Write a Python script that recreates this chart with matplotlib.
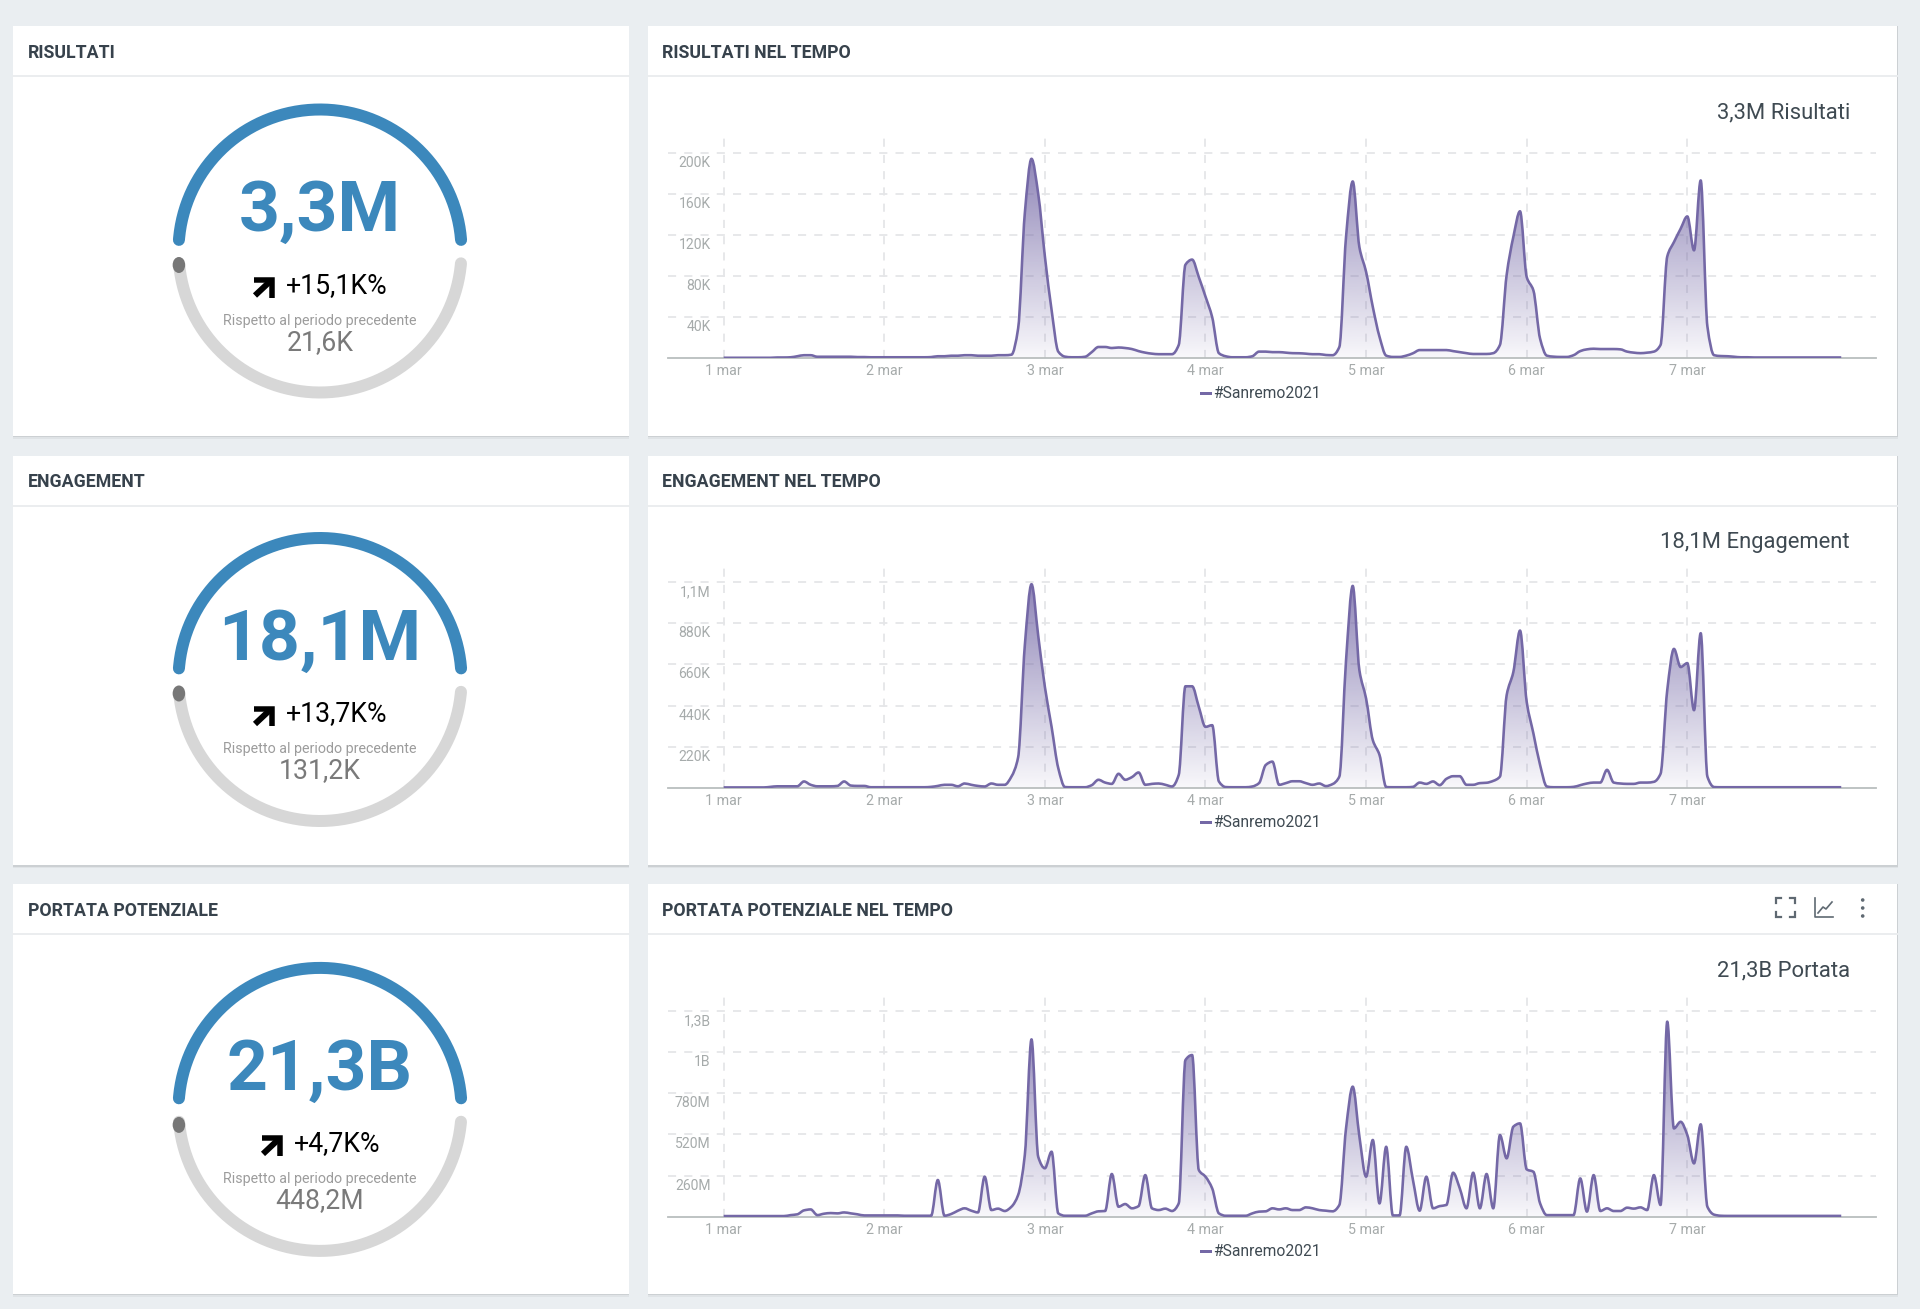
import numpy as np
import matplotlib
matplotlib.use('Agg')
import matplotlib.pyplot as plt
from matplotlib.patches import Rectangle, Ellipse, PathPatch
from matplotlib.path import Path
from matplotlib.transforms import ScaledTranslation

plt.rcParams['font.family'] = ['Roboto', 'DejaVu Sans']

W, H = 1920, 1309
PT = 0.72  # px -> pt at dpi 100

# hourly values, one line per day (1 mar .. 7 mar)
risultati = [
    .5, .5, .5, .5, .5, .5, .5, .5, .8, .8, 1, 2, 3, 3, 1.5, 1.5, 1.5, 1.5, 1.5, 1.5, 1.2, 1.2, 1, 1,
    1, 1, 1, 1, 1, 1, 1, 1.2, 2, 2, 2.5, 2.5, 3, 3, 2.5, 2.5, 2.5, 3, 3, 3.5, 29, 141, 194, 160,
    99, 47, 6.5, 1.6, 1, 1, 1.5, 6, 11, 11, 10, 10.5, 10, 9, 7, 5.5, 4.5, 4, 4, 4, 13, 91, 96, 79,
    60, 40, 5, 2, 1, 1, 1, 2, 6.5, 6.5, 6, 6, 5.5, 5, 4.9, 4.5, 4, 4, 3.2, 3, 11, 118, 172, 108,
    84, 50, 21, 2.6, 1.3, 1.3, 2.6, 4.9, 8, 8, 8, 8, 8, 7, 6, 5, 4.2, 4.2, 4.2, 5, 13, 81, 118, 143,
    79, 66, 19, 2.6, 1.6, 1.3, 1.3, 3, 7, 8.7, 9.3, 9, 9, 9, 8.7, 6.5, 5.5, 5, 5.5, 6.5, 13, 99, 113, 126,
    138, 105, 173, 31, 3, 2.2, 2, 1.5, 1, 1, .8, .8, .8, .8, .8, .8, .8, .8, .8, .8, .8, .8, .8, .8,
]
engagement = [
    2, 2, 2, 2, 2, 2, 2, 5, 8, 8, 8, 8, 34, 16, 8, 8, 8, 10, 34, 12, 10, 10, 3, 3,
    3, 3, 3, 3, 3, 3, 3, 5, 10, 16, 16, 8, 23, 16, 10, 7, 23, 16, 16, 60, 163, 761, 1089, 814,
    539, 326, 105, 4, 3, 3, 3, 14, 43, 28, 21, 75, 43, 57, 82, 16, 21, 23, 16, 7, 69, 543, 543, 433,
    326, 335, 34, 4, 3, 3, 3, 7, 25, 122, 140, 16, 25, 35, 35, 25, 16, 23, 9, 20, 60, 681, 1080, 628,
    477, 255, 176, 4, 3, 3, 3, 5, 28, 21, 34, 14, 48, 62, 62, 16, 16, 25, 27, 37, 60, 495, 619, 841,
    459, 291, 122, 7, 3, 3, 3, 5, 14, 23, 28, 28, 96, 28, 23, 21, 21, 28, 28, 32, 75, 522, 743, 646,
    667, 415, 827, 60, 4, 3, 3, 3, 3, 3, 3, 3, 3, 3, 3, 3, 3, 3, 3, 3, 3, 3, 3, 3,
]
portata = [
    4, 4, 4, 4, 4, 4, 4, 4, 4, 4, 10, 15, 40, 46, 10, 19, 23, 21, 27, 21, 15, 8, 8, 8,
    8, 8, 8, 6, 6, 6, 6, 6, 232, 6, 17, 38, 53, 38, 27, 253, 42, 51, 36, 63, 137, 390, 1121, 379,
    306, 411, 21, 6, 6, 6, 6, 21, 34, 36, 270, 63, 80, 53, 67, 263, 53, 42, 51, 36, 84, 990, 1022, 295,
    253, 179, 21, 6, 6, 6, 6, 21, 32, 34, 53, 46, 53, 42, 42, 59, 53, 42, 38, 34, 74, 558, 822, 506,
    253, 485, 84, 442, 8, 8, 442, 232, 38, 253, 53, 67, 74, 278, 179, 53, 278, 53, 270, 53, 516, 369, 569, 590,
    299, 284, 84, 10, 10, 10, 10, 10, 242, 32, 263, 36, 53, 36, 36, 57, 51, 59, 42, 263, 74, 1233, 558, 600,
    516, 337, 584, 63, 13, 6, 5, 5, 5, 5, 5, 5, 5, 5, 5, 5, 5, 5, 5, 5, 5, 5, 5, 5,
]

day_labels = ['1 mar', '2 mar', '3 mar', '4 mar', '5 mar', '6 mar', '7 mar']
left_titles = ['RISULTATI', 'ENGAGEMENT', 'PORTATA POTENZIALE']
right_titles = ['RISULTATI NEL TEMPO', 'ENGAGEMENT NEL TEMPO', 'PORTATA POTENZIALE NEL TEMPO']
big_values = ['3,3M', '18,1M', '21,3B']
changes = ['+15,1K%', '+13,7K%', '+4,7K%']
previous = ['21,6K', '131,2K', '448,2M']
totals = ['3,3M Risultati', '18,1M Engagement', '21,3B Portata']
series = [risultati, engagement, portata]
y_steps = [40, 220, 260]
y_labels = [['40K', '80K', '120K', '160K', '200K'],
            ['220K', '440K', '660K', '880K', '1,1M'],
            ['260M', '520M', '780M', '1B', '1,3B']]
legend_name = '#Sanremo2021'

row_offset = [0, 429.5, 858.4]
gauge_offset = [0, 428.5, 858.4]
BG = '#eaeef1'
BLUE = '#3c88bc'
LINE = '#7468a6'
DARK = '#37424c'
TICK = '#a6abab'
GRID = '#e5e6e8'

fig = plt.figure(figsize=(W / 100, H / 100), dpi=100, facecolor=BG)
bg = fig.add_axes([0, 0, 1, 1])
bg.set_xlim(0, W)
bg.set_ylim(H, 0)
bg.axis('off')


def card(x0, x1, y0, y1, yh):
    # soft shadow under the card
    bg.add_patch(Rectangle((x0 - 0.5, y0), x1 - x0 + 1, y1 - y0 + 3, fc='#dfe3e6', ec='none', zorder=1))
    bg.add_patch(Rectangle((x0 - 0.5, y0), x1 - x0 + 1, y1 - y0 + 1.5, fc='#ccd0d3', ec='none', zorder=1))
    bg.add_patch(Rectangle((x0, y0), x1 - x0, y1 - y0, fc='white', ec='none', zorder=2))
    bg.plot([x0, x1], [yh, yh], color='#ebedef', lw=1.4, zorder=3)


def spline_path(x, y):
    # monotone cubic through the hourly values, so tops stay round and nothing overshoots
    d = np.diff(y)
    m = np.zeros(len(y))
    same = d[:-1] * d[1:] > 0
    m[1:-1][same] = 2 * d[:-1][same] * d[1:][same] / (d[:-1][same] + d[1:][same])
    verts = [(x[0], y[0])]
    codes = [Path.MOVETO]
    for k in range(len(x) - 1):
        verts += [(x[k] + 1 / 3, y[k] + m[k] / 3), (x[k + 1] - 1 / 3, y[k + 1] - m[k + 1] / 3), (x[k + 1], y[k + 1])]
        codes += [Path.CURVE4] * 3
    return verts, codes


for i in range(3):
    off = row_offset[i]
    goff = gauge_offset[i]
    card(13, 628.6, 26 + off, 435.5 + off, 76 + off)
    card(648, 1897, 26 + off, 435.5 + off, 76 + off)
    bg.text(27.5, 52.6 + off, left_titles[i], fontsize=17.8 * PT, fontweight='bold', color=DARK, va='center', zorder=4)
    bg.text(662, 52.6 + off, right_titles[i], fontsize=17.8 * PT, fontweight='bold', color=DARK, va='center', zorder=4)

    # gauge
    cx, cy, r = 320, 251 + goff, 141.5
    top = np.radians(np.linspace(4.5, 175.5, 200))
    bottom = np.radians(np.linspace(-175, -5, 200))
    bg.plot(cx + r * np.cos(top), cy - r * np.sin(top), color=BLUE, lw=12 * PT, solid_capstyle='round', zorder=4)
    bg.plot(cx + r * np.cos(bottom), cy - r * np.sin(bottom), color='#d7d7d7', lw=12 * PT, solid_capstyle='round', zorder=4)
    dot_y = 265 + goff + (1.5 if i == 2 else 0)
    bg.add_patch(Ellipse((178.9, dot_y), 12.5, 16, fc='#777777', ec='none', zorder=5))
    bg.text(cx, 211.5 + goff, big_values[i], fontsize=71.5 * PT, fontweight='bold', color=BLUE, ha='center', va='center', zorder=5)

    # arrow next to the change, shifted with the text length
    ax_shift = 8 if i == 2 else 0
    bg.plot([255 + ax_shift, 271 + ax_shift], [295.5 + goff, 280.5 + goff], color='black', lw=6 * PT, zorder=5, solid_capstyle='butt')
    bg.plot([253.5 + ax_shift, 272 + ax_shift, 272 + ax_shift], [280 + goff, 280 + goff, 297.5 + goff],
            color='black', lw=5.5 * PT, zorder=5, solid_joinstyle='miter', solid_capstyle='butt')
    bg.text(285.5 + ax_shift, 285.5 + goff, changes[i], fontsize=26.6 * PT, color='black', va='center', zorder=5)
    bg.text(320, 320.7 + goff, 'Rispetto al periodo precedente', fontsize=14.2 * PT, color='#9c9c9c', ha='center', va='center', zorder=5)
    bg.text(320, 342.5 + goff, previous[i], fontsize=26.6 * PT, color='#7a7a7a', ha='center', va='center', zorder=5)

    bg.text(1850, 113 + off, totals[i], fontsize=22 * PT, color='#3f4a52', ha='right', va='center', zorder=5)
    bg.plot([1201, 1210], [392.5 + off, 392.5 + off], color=LINE, lw=3 * PT, zorder=5)
    bg.text(1213, 393.3 + off, legend_name, fontsize=15.6 * PT, color='#3f4a52', va='center', zorder=5)

    # time chart, axes box in px
    base = 358.3 + off
    axtop = 134 + off
    left, right = 667.8, 1875.7
    ax = fig.add_axes([left / W, 1 - base / H, (right - left) / W, (base - axtop) / H], facecolor='none')
    values = np.array(series[i], dtype=float)
    hours = np.arange(len(values), dtype=float)
    step = y_steps[i]
    ymax = step * (base - axtop) / 41.13

    ax.grid(True, color=GRID, lw=1.3, linestyle=(0, (4.5, 4.5)), zorder=0)
    ax.set_axisbelow(True)
    ax.set_xticks(np.arange(7) * 24)
    ax.set_xticklabels(day_labels)
    ax.set_yticks(np.arange(1, 6) * step)
    ax.set_yticklabels(y_labels[i])
    ax.tick_params(axis='x', length=0, pad=6 * PT, labelsize=14.3 * PT, labelcolor=TICK)
    ax.tick_params(axis='y', length=0, pad=-42.8 * PT, labelsize=14 * PT, labelcolor=TICK)
    shift = ScaledTranslation(0, -8.5 * PT / 72, fig.dpi_scale_trans)
    for lab in ax.get_yticklabels():
        lab.set_transform(lab.get_transform() + shift)
    for s in ['top', 'left', 'right']:
        ax.spines[s].set_visible(False)
    ax.spines['bottom'].set_color('#b9bebe')
    ax.spines['bottom'].set_linewidth(1.3)

    # fill: fades from the top of the series down to the baseline
    grad = np.zeros((256, 1, 4))
    grad[..., 0] = 0x74 / 255
    grad[..., 1] = 0x68 / 255
    grad[..., 2] = 0xa6 / 255
    grad[..., 3] = np.linspace(0.8, 0.05, 256)[:, None]
    im = ax.imshow(grad, extent=[0, hours[-1], 0, values.max()], aspect='auto', origin='upper', zorder=1,
                   interpolation='bilinear')
    verts, codes = spline_path(hours, values)
    area = Path(verts + [(hours[-1], 0), (0, 0), (0, 0)], codes + [Path.LINETO, Path.LINETO, Path.CLOSEPOLY])
    im.set_clip_path(PathPatch(area, transform=ax.transData))
    ax.set_xlim(-8.35, 172.15)
    ax.set_ylim(0, ymax)
    ax.add_patch(PathPatch(Path(verts, codes), fc='none', ec=LINE, lw=2.6 * PT, joinstyle='round', zorder=3))

# header icons on the last chart
ICON = '#5f6972'
for xs, ys in [([1776, 1776, 1781], [903, 898, 898]), ([1790, 1795, 1795], [898, 898, 903]),
               ([1776, 1776, 1781], [912, 917, 917]), ([1790, 1795, 1795], [917, 917, 912])]:
    bg.plot(xs, ys, color=ICON, lw=1.6, zorder=5, solid_joinstyle='miter')
bg.plot([1815, 1815, 1833], [898, 917, 917], color=ICON, lw=1.2, zorder=5)
bg.plot([1818, 1823, 1826, 1832], [913, 907, 909, 902], color=ICON, lw=1.2, zorder=5)
for y in [900, 908, 916]:
    bg.add_patch(Ellipse((1862.7, y), 3.6, 3.6, fc=ICON, ec='none', zorder=5))

fig.savefig('out.png', dpi=100, facecolor=BG)
